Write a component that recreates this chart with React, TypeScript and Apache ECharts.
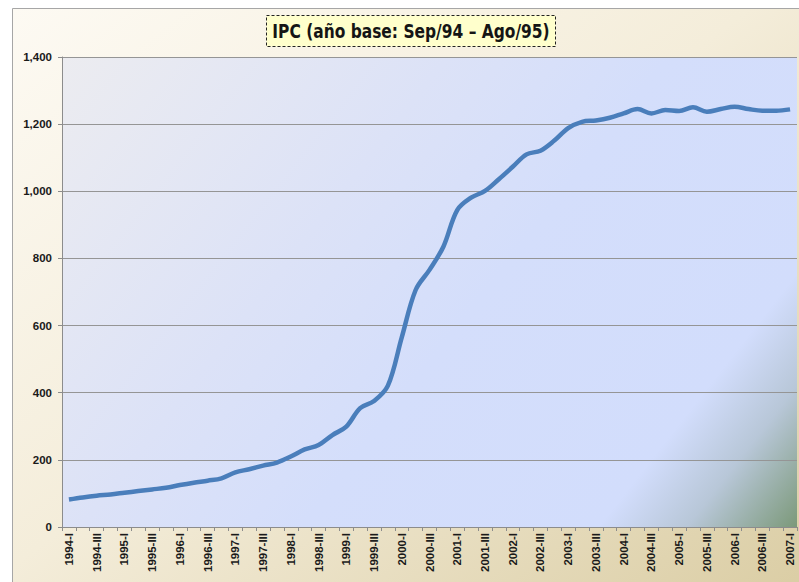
import React, { useEffect, useRef } from "react";
import * as echarts from "echarts";

const years = ["1994","1995","1996","1997","1998","1999","2000","2001","2002","2003","2004","2005","2006","2007"];
const quarters = ["I","II","III","IV"];
const categories: string[] = [];
years.forEach((y) => quarters.forEach((q) => { if (categories.length < 53) categories.push(`${y}-${q}`); }));

const ipcValues = [
  82, 88, 93, 97,
  102, 107, 112, 117,
  125, 132, 138, 145,
  163, 172, 183, 192,
  210, 231, 244, 274,
  299, 354, 375, 421,
  565, 706, 766, 835,
  944, 981, 1001, 1036,
  1073, 1110, 1121, 1151,
  1188, 1207, 1211, 1219,
  1232, 1245, 1232, 1242,
  1239, 1250, 1237, 1245,
  1252, 1245, 1240, 1240,
  1244,
];

const titleText = "IPC (año base: Sep/94 – Ago/95)";
const yTicks = { min: 0, max: 1400, interval: 200 };

const G = { left: 62, top: 57, right: 2, bottom: 55 };
const W = 799, H = 582;

export default function App() {
  const ref = useRef<HTMLDivElement>(null);
  useEffect(() => {
    if (!ref.current) return;
    const chart = echarts.init(ref.current, null, { renderer: "svg" });
    const pw = W - G.left - G.right;
    const ph = H - G.top - G.bottom;
    chart.setOption({
      animation: false,
      backgroundColor: "#ffffff",
      graphic: {
        elements: [
          {
            type: "rect",
            z: -20,
            silent: true,
            shape: { x: 12.5, y: 8.5, width: 820, height: 620 },
            style: {
              fill: new echarts.graphic.LinearGradient(0, 0, 1, 1, [
                { offset: 0, color: "#fdfaf3" },
                { offset: 0.45, color: "#f4edda" },
                { offset: 1, color: "#d8ca9f" },
              ]),
              stroke: "#a6a6a6",
              lineWidth: 1,
            },
          },
          {
            type: "rect",
            z: -10,
            silent: true,
            shape: { x: G.left, y: G.top, width: pw, height: ph },
            style: {
              fill: new echarts.graphic.LinearGradient(0, 0, 1.2, 0.6, [
                { offset: 0, color: "#ececf0" },
                { offset: 0.35, color: "#dce2f7" },
                { offset: 0.55, color: "#d4defb" },
                { offset: 0.82, color: "#d2ddfc" },
                { offset: 0.9, color: "#b8c7d8" },
                { offset: 1, color: "#7c997a" },
              ]),
            },
          },
          {
            type: "rect",
            z: 10,
            silent: true,
            shape: { x: 266.5, y: 15.5, width: 289, height: 31 },
            style: { fill: "#ffffcc", stroke: "#222", lineWidth: 1, lineDash: [3, 2] },
          },
          {
            type: "text",
            z: 11,
            silent: true,
            x: 411,
            y: 31,
            scaleX: 0.86,
            style: {
              text: titleText,
              font: 'bold 20px "DejaVu Sans Condensed", "Liberation Sans", sans-serif',
              fill: "#151515",
              align: "center",
              verticalAlign: "middle",
            },
          },
        ],
      },
      grid: { left: G.left, top: G.top, right: G.right, bottom: G.bottom, containLabel: false },
      xAxis: {
        type: "category",
        data: categories,
        boundaryGap: true,
        axisLine: { show: true, lineStyle: { color: "#8c8c8c", width: 1 } },
        axisTick: { show: true, interval: 0, length: 4, lineStyle: { color: "#8c8c8c" } },
        axisLabel: {
          interval: 1,
          rotate: 90,
          margin: 6,
          fontFamily: '"Liberation Sans", Arial, sans-serif',
          fontWeight: "bold",
          fontSize: 11.5,
          color: "#1a1a1a",
        },
        splitLine: { show: false },
      },
      yAxis: {
        type: "value",
        min: yTicks.min,
        max: yTicks.max,
        interval: yTicks.interval,
        axisLine: { show: true, lineStyle: { color: "#8c8c8c", width: 1 } },
        axisTick: { show: true, length: 4, lineStyle: { color: "#8c8c8c" } },
        axisLabel: {
          margin: 10,
          fontFamily: '"Liberation Sans", Arial, sans-serif',
          fontWeight: "bold",
          fontSize: 11.5,
          color: "#1a1a1a",
          formatter: (v: number) => v.toLocaleString("en-US"),
        },
        splitLine: { show: true, lineStyle: { color: "#959595", width: 1.2 } },
      },
      series: [
        {
          type: "line",
          data: ipcValues,
          smooth: 0.35,
          showSymbol: false,
          lineStyle: { color: "#4a7ebb", width: 4.5 },
          itemStyle: { color: "#4a7ebb" },
        },
      ],
    });
    return () => chart.dispose();
  }, []);
  return <div ref={ref} style={{ position: "absolute", left: 0, top: 0, width: W, height: H }} />;
}
